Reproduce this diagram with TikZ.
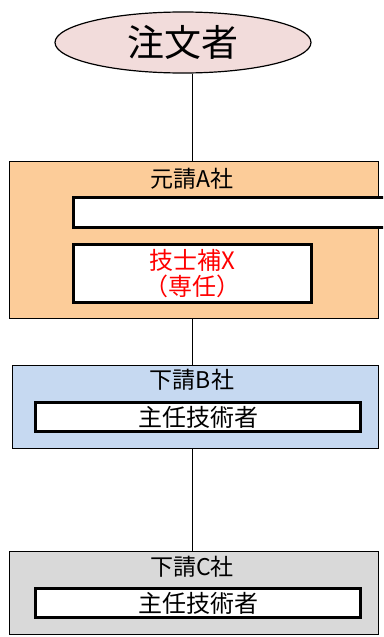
\documentclass[tikz,border=0pt]{standalone}
\usepackage{fontspec}
\setmainfont{Noto Sans CJK JP}
\usetikzlibrary{shapes.geometric}
\definecolor{peach}{HTML}{FCCC99}
\definecolor{lblue}{HTML}{C6D9F1}
\definecolor{lgray}{HTML}{D9D9D9}
\definecolor{pinkish}{HTML}{F2DCDB}
\begin{document}
\begin{tikzpicture}[x=1pt,y=-1pt,
  company/.style={draw=black,line width=1.3pt,anchor=north west,inner sep=0pt},
  inner/.style={draw=black,fill=white,line width=3.4pt,anchor=north west,inner sep=0pt},
  lbl/.style={font=\fontsize{23}{25}\selectfont},
  line/.style={draw=black,line width=1pt}]
\useasboundingbox (0,0) rectangle (383,637);
\begin{scope}
\clip (0,0) rectangle (383,637);
\node[ellipse,draw=black,fill=pinkish,line width=1.2pt,minimum width=256,minimum height=61,font=\fontsize{37}{39}\selectfont] (orderer) at (183,42.5) {注文者};
\node[company,fill=peach,minimum width=369,minimum height=157] (A) at (9,161) {};
\node[lbl] (Alabel) at (192,179) {元請A社};
\node[inner,minimum width=330,minimum height=30] (Abar) at (72,196) {};
\node[inner,minimum width=238,minimum height=58,align=center,text=red,font=\fontsize{24}{26}\selectfont] (X) at (72,243) {技士補X\\（専任）};
\node[company,fill=lblue,minimum width=366,minimum height=83] (B) at (12,365) {};
\node[lbl] (Blabel) at (192,380) {下請B社};
\node[inner,minimum width=325,minimum height=29,font=\fontsize{24}{26}\selectfont] (Bchief) at (34,401) {主任技術者};
\node[company,fill=lgray,minimum width=369,minimum height=83] (C) at (9,551) {};
\node[lbl] (Clabel) at (192,567) {下請C社};
\node[inner,minimum width=325,minimum height=29,font=\fontsize{24}{26}\selectfont] (Cchief) at (34,587) {主任技術者};
\draw[line] ([xshift=9pt]orderer.south) -- ([xshift=9pt]orderer.south |- A.north);
\draw[line] (A.south -| Alabel) -- (B.north -| Alabel);
\draw[line] (B.south -| Blabel) -- (C.north -| Blabel);
\end{scope}
\end{tikzpicture}
\end{document}
